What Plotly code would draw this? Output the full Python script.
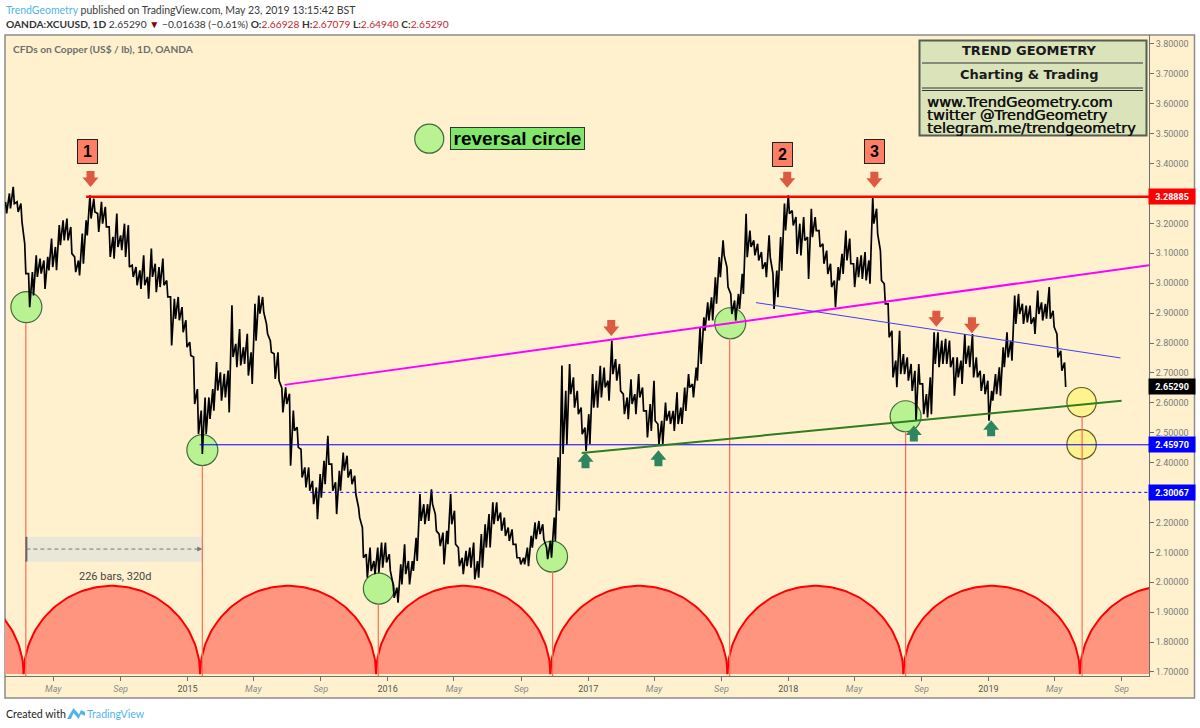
import numpy as np
import pandas as pd
import plotly.graph_objects as go

# Weekly high / low of XCUUSD
semanas = [
    (3.272, 3.233), (3.300, 3.250), (3.322, 3.266), (3.272, 3.238), (3.266, 3.205), (3.132, 3.032), (3.032, 2.920), (3.037, 2.959),
    (3.093, 3.021), (3.082, 3.032), (3.076, 2.981), (3.088, 3.043), (3.149, 3.054), (3.121, 3.043), (3.194, 3.127), (3.210, 3.143),
    (3.216, 3.143), (3.188, 3.099), (3.088, 3.037), (3.076, 3.026), (3.166, 3.065), (3.210, 3.160), (3.294, 3.216), (3.283, 3.238),
    (3.233, 3.171), (3.272, 3.199), (3.255, 3.188), (3.188, 3.088), (3.155, 3.082), (3.233, 3.121), (3.160, 3.110), (3.199, 3.088),
    (3.194, 3.054), (3.060, 3.021), (3.054, 2.993), (3.043, 2.981), (3.093, 2.993), (3.021, 2.948), (3.116, 3.021), (3.065, 2.970),
    (3.054, 2.987), (3.082, 2.993), (3.009, 2.954), (2.954, 2.792), (2.948, 2.881), (2.954, 2.876), (2.920, 2.836), (2.876, 2.786),
    (2.803, 2.758), (2.753, 2.596), (2.646, 2.496), (2.574, 2.429), (2.618, 2.496), (2.618, 2.546), (2.646, 2.574), (2.736, 2.641),
    (2.702, 2.607), (2.697, 2.618), (2.708, 2.568), (2.926, 2.753), (2.797, 2.719), (2.847, 2.725), (2.786, 2.730), (2.831, 2.691),
    (2.769, 2.663), (2.931, 2.808), (2.959, 2.898), (2.954, 2.903), (2.864, 2.831), (2.808, 2.769), (2.764, 2.680), (2.769, 2.674),
    (2.650, 2.568), (2.652, 2.596), (2.630, 2.390), (2.574, 2.507), (2.518, 2.451), (2.445, 2.350), (2.384, 2.317), (2.384, 2.306),
    (2.339, 2.261), (2.317, 2.211), (2.362, 2.283), (2.406, 2.328), (2.490, 2.395), (2.395, 2.306), (2.334, 2.228), (2.373, 2.306),
    (2.434, 2.373), (2.423, 2.350), (2.378, 2.328), (2.356, 2.295), (2.250, 2.216), (2.183, 2.082), (2.094, 2.015), (2.116, 2.038),
    (2.071, 2.027), (2.116, 2.032), (2.133, 2.049), (2.133, 2.066), (2.094, 2.038), (1.993, 1.948), (1.982, 1.932), (2.060, 1.993),
    (2.127, 2.027), (2.071, 1.993), (2.071, 2.038), (2.149, 2.071), (2.295, 2.205), (2.261, 2.194), (2.261, 2.205), (2.311, 2.261),
    (2.228, 2.172), (2.161, 2.121), (2.166, 2.060), (2.172, 2.127), (2.295, 2.194), (2.239, 2.127), (2.116, 2.054), (2.082, 2.027),
    (2.105, 2.054), (2.116, 2.049), (2.133, 2.010), (2.071, 2.015), (2.161, 2.049), (2.194, 2.116), (2.228, 2.116), (2.267, 2.194),
    (2.267, 2.205), (2.233, 2.172), (2.216, 2.155), (2.183, 2.138), (2.177, 2.127), (2.127, 2.082), (2.082, 2.060), (2.082, 2.060),
    (2.116, 2.054), (2.155, 2.116), (2.200, 2.144), (2.205, 2.161), (2.194, 2.144), (2.116, 2.077), (2.138, 2.082), (2.216, 2.138),
    (2.418, 2.239), (2.725, 2.429), (2.640, 2.460), (2.730, 2.629), (2.685, 2.584), (2.640, 2.562), (2.584, 2.495), (2.517, 2.439),
    (2.562, 2.462), (2.696, 2.584), (2.674, 2.584), (2.724, 2.618), (2.718, 2.651), (2.674, 2.607), (2.808, 2.696), (2.746, 2.674),
    (2.730, 2.640), (2.629, 2.562), (2.618, 2.545), (2.679, 2.596), (2.629, 2.562), (2.696, 2.618), (2.651, 2.573), (2.573, 2.484),
    (2.596, 2.506), (2.674, 2.540), (2.529, 2.462), (2.540, 2.462), (2.601, 2.540), (2.573, 2.529), (2.573, 2.506), (2.635, 2.529),
    (2.584, 2.529), (2.651, 2.573), (2.696, 2.651), (2.663, 2.618), (2.718, 2.674), (2.853, 2.730), (2.886, 2.841), (2.936, 2.875),
    (2.953, 2.875), (3.020, 2.931), (3.087, 3.020), (3.143, 3.093), (3.054, 2.987), (2.964, 2.897), (2.942, 2.875), (2.964, 2.914),
    (3.031, 2.964), (3.232, 3.087), (3.176, 3.121), (3.143, 3.093), (3.132, 3.076), (3.104, 3.048), (3.070, 3.020), (3.160, 3.087),
    (3.031, 2.914), (3.042, 2.953), (3.154, 3.042), (3.266, 3.176), (3.294, 3.232), (3.243, 3.193), (3.221, 3.098), (3.199, 3.093),
    (3.221, 3.143), (3.154, 3.014), (3.249, 3.154), (3.221, 3.176), (3.176, 3.121), (3.132, 3.065), (3.109, 3.031), (3.065, 2.987),
    (3.009, 2.920), (3.054, 3.009), (3.098, 3.031), (3.176, 3.076), (3.149, 3.065), (3.065, 2.987), (3.087, 3.020), (3.093, 3.014),
    (3.104, 3.009), (3.076, 2.998), (3.288, 3.199), (3.249, 3.165), (3.109, 3.009), (2.998, 2.931), (2.931, 2.819), (2.841, 2.685),
    (2.741, 2.652), (2.841, 2.696), (2.763, 2.696), (2.752, 2.674), (2.730, 2.640), (2.707, 2.540), (2.730, 2.663), (2.663, 2.562),
    (2.629, 2.551), (2.685, 2.562), (2.836, 2.730), (2.836, 2.719), (2.808, 2.730), (2.814, 2.730), (2.808, 2.719), (2.752, 2.624),
    (2.752, 2.685), (2.741, 2.663), (2.830, 2.730), (2.791, 2.719), (2.830, 2.685), (2.752, 2.685), (2.707, 2.640), (2.696, 2.629),
    (2.674, 2.540), (2.640, 2.607), (2.696, 2.629), (2.719, 2.624), (2.786, 2.719), (2.836, 2.752), (2.808, 2.741), (2.959, 2.864),
    (2.964, 2.897), (2.931, 2.864), (2.925, 2.869), (2.925, 2.864), (2.886, 2.830), (2.975, 2.897), (2.936, 2.875), (2.931, 2.881),
    (2.987, 2.881), (2.908, 2.853), (2.830, 2.752), (2.774, 2.707), (2.735, 2.653),
]

PAPER = '#FFF1CE'
GRIS = '#6f6f6f'
AZUL_TV = '#4FB6E8'
FIN = '2019-10-21'

# pixel helpers for the decoration that is not tied to the data
def px(x):
    return (x - 5) / 1144

def py(y):
    return 1 - (y - 35) / 641

fig = go.Figure()

# Cycle curves
ciclos = ['2013-04-25', '2014-03-12', '2015-01-28', '2015-12-15', '2016-10-28', '2017-09-16', '2018-08-03', '2019-06-21', '2020-05-09']
base, cima = 1.693, 1.988
t = np.linspace(0, np.pi, 90)
for ini, fin in zip(ciclos[:-1], ciclos[1:]):
    a = pd.Timestamp(ini) - pd.Timedelta(days=4)
    dur = (pd.Timestamp(fin) - pd.Timestamp(ini)).days
    xs = [a + pd.Timedelta(days=float(d)) for d in dur * (1 - np.cos(t)) / 2]
    fig.add_trace(go.Scatter(x=xs, y=base + (cima - base) * np.sin(t), mode='lines', fill='toself',
                             fillcolor='#FF947F', line=dict(color='#FF0000', width=2), hoverinfo='skip'))

# Vertical lines from each circle down to the axis
verticales = [('2014-03-12', 2.867), ('2015-01-28', 2.388), ('2015-12-15', 1.925), ('2016-10-28', 2.034),
              ('2017-09-16', 2.815), ('2018-08-03', 2.505), ('2019-06-21', 2.556)]
for fecha, tope in verticales:
    fig.add_trace(go.Scatter(x=[fecha, fecha], y=[1.5, tope], mode='lines', line=dict(color='#FF6A58', width=1.2), hoverinfo='skip'))

# Price
fechas = pd.date_range('2014-02-03', periods=len(semanas), freq='W-MON')
x_precio, y_precio = [], []
for fecha, (alto, bajo) in zip(fechas, semanas):
    x_precio += [fecha, fecha + pd.Timedelta(days=2)]
    y_precio += [alto, bajo]
fig.add_trace(go.Scatter(x=x_precio, y=y_precio, mode='lines', line=dict(color='#000000', width=1.7), hoverinfo='skip'))

# Levels and trend lines
lineas = [
    (['2014-06-30', FIN], [3.28885, 3.28885], '#FF0000', 2.6, 'solid'),
    (['2015-01-23', FIN], [2.4597, 2.4597], '#0000FF', 1, 'solid'),
    (['2015-08-13', FIN], [2.30067, 2.30067], '#0000FF', 1, 'dot'),
    (['2015-06-27', FIN], [2.660, 3.060], '#FF00FF', 2, 'solid'),
    (['2017-11-03', '2019-08-30'], [2.935, 2.750], '#3F3FF0', 1, 'solid'),
    (['2016-12-20', '2019-09-01'], [2.432, 2.607], '#2E7D1E', 2, 'solid'),
]
for xs, ys, color, ancho, estilo in lineas:
    fig.add_trace(go.Scatter(x=xs, y=ys, mode='lines', line=dict(color=color, width=ancho, dash=estilo), hoverinfo='skip'))

shapes = []

# Chart frame
shapes.append(dict(type='rect', xref='paper', yref='paper', x0=px(5), x1=px(1194.5), y0=py(35), y1=py(698),
                   fillcolor=PAPER, line=dict(color='#8c8c8c', width=1.5), layer='below'))

# Reversal circles
circulos = [
    ('2014-03-13', 2.920, 15.5, '#B9F291', '#3F6B3F'), ('2015-01-28', 2.442, 15.5, '#B9F291', '#3F6B3F'),
    ('2015-12-16', 1.979, 15.5, '#B9F291', '#3F6B3F'), ('2016-10-27', 2.086, 15.5, '#B9F291', '#3F6B3F'),
    ('2017-09-17', 2.866, 15.5, '#B9F291', '#3F6B3F'), ('2018-08-03', 2.555, 15.5, '#B9F291', '#3F6B3F'),
    ('2016-03-17', 3.483, 14.5, '#B9F291', '#3F6B3F'),
    ('2019-06-20', 2.602, 14.7, '#FFF38F', '#5F5A2A'), ('2019-06-20', 2.461, 14.7, '#FFF38F', '#5F5A2A'),
]
for fecha, precio, r, relleno, borde in circulos:
    shapes.append(dict(type='circle', xref='x', yref='y', xsizemode='pixel', ysizemode='pixel',
                       xanchor=fecha, yanchor=precio, x0=-r, x1=r, y0=-r, y1=r,
                       fillcolor=relleno, line=dict(color=borde, width=1.2), layer='below'))

# Block arrows, path y runs upwards from the anchor
FLECHA_BAJA = 'M -4 8 L 4 8 L 4 1.5 L 8 1.5 L 0 -8 L -8 1.5 L -4 1.5 Z'
FLECHA_SUBE = 'M -4 -8 L 4 -8 L 4 -1.5 L 8 -1.5 L 0 8 L -8 -1.5 L -4 -1.5 Z'
rojas = [('2014-07-08', 3.348), ('2017-12-30', 3.346), ('2018-06-07', 3.346), ('2017-02-12', 2.850), ('2018-09-28', 2.881), ('2018-12-02', 2.859)]
verdes = [('2016-12-27', 2.408), ('2017-05-09', 2.415), ('2018-08-18', 2.497), ('2019-01-06', 2.515)]
for fecha, precio in rojas:
    shapes.append(dict(type='path', xref='x', yref='y', xsizemode='pixel', ysizemode='pixel', xanchor=fecha, yanchor=precio,
                       path=FLECHA_BAJA, fillcolor='#DB5A41', line=dict(color='#DB5A41', width=0)))
for fecha, precio in verdes:
    shapes.append(dict(type='path', xref='x', yref='y', xsizemode='pixel', ysizemode='pixel', xanchor=fecha, yanchor=precio,
                       path=FLECHA_SUBE, fillcolor='#2E8560', line=dict(color='#2E8560', width=0)))

# Date range ruler
shapes.append(dict(type='rect', xref='x', yref='y', x0='2014-03-12', x1='2015-01-28', y0=2.069, y1=2.152,
                   fillcolor='#E9E7D8', line=dict(width=0), layer='below'))
shapes.append(dict(type='line', xref='x', yref='y', x0='2014-03-13', x1='2014-03-13', y0=2.069, y1=2.152, line=dict(color='#666666', width=2)))
shapes.append(dict(type='line', xref='x', yref='y', x0='2014-03-13', x1='2015-01-26', y0=2.111, y1=2.111, line=dict(color='#777777', width=1, dash='4px,3px')))

# Info panel
shapes.append(dict(type='rect', xref='paper', yref='paper', x0=px(919.5), x1=px(1146.5), y0=py(40.5), y1=py(135.5),
                   fillcolor='#DBE3BB', line=dict(color='#555F50', width=2)))
for y_linea in [63, 88, 90.5]:
    shapes.append(dict(type='line', xref='paper', yref='paper', x0=px(922), x1=px(1143), y0=py(y_linea), y1=py(y_linea), line=dict(color='#333333', width=1)))

# TradingView logo
logo = [(67, 719), (73.5, 708), (79, 714.5), (81, 710), (85, 712), (85, 716), (81, 714), (78.5, 719), (73.5, 713), (71, 719)]
ruta = 'M ' + ' L '.join(f'{px(a):.5f} {py(b):.5f}' for a, b in logo) + ' Z'
shapes.append(dict(type='path', xref='paper', yref='paper', path=ruta, fillcolor=AZUL_TV, line=dict(width=0)))

annotations = []

def texto(x, y, s, size=12, color='#222222', familia='Lato', ancla='left', sombra=None, **extra):
    fuente = dict(size=size, color=color, family=familia)
    if sombra:
        fuente['shadow'] = sombra
    annotations.append(dict(xref='paper', yref='paper', x=px(x), y=py(y), text=s, showarrow=False, xanchor=ancla, yanchor='middle',
                            font=fuente, borderpad=0, **extra))

# Header
rojo = '#C0272D'
texto(5, 10, f'<span style="color:{AZUL_TV}">TrendGeometry</span> published on TradingView.com, May 23, 2019 13:15:42 BST', size=10.5, color='#3a3a3a')
texto(5, 24, f'<b>OANDA:XCUUSD, 1D</b> 2.65290 <span style="color:#8B0000">▼</span> −0.01638 (−0.61%) <b>O:</b><span style="color:{rojo}">2.66928</span> '
             f'<b>H:</b><span style="color:{rojo}">2.67079</span> <b>L:</b><span style="color:{rojo}">2.64940</span> <b>C:</b><span style="color:{rojo}">2.65290</span>',
      size=10.2, color='#333333')
texto(12, 49, '<b>CFDs on Copper (US$ / lb), 1D, OANDA</b>', size=10.2, color='#6d6d6d')

# Footer
texto(5, 714, 'Created with', size=10.6, color='#222222')
texto(86, 714, 'TradingView', size=10.6, color=AZUL_TV)

# Panel text
texto(1029, 50, '<b>TREND GEOMETRY</b>', size=13, familia='DejaVu Sans', ancla='center', color='#1a1a1a')
texto(1029, 75, '<b>Charting &amp; Trading</b>', size=13, familia='DejaVu Sans', ancla='center', color='#1a1a1a')
SOMBRA = '0.5px 0 0 #111111'
texto(926, 101.5, 'www.TrendGeometry.com', size=14.6, familia='DejaVu Sans', color='#111111', sombra=SOMBRA)
texto(926, 114.5, 'twitter @TrendGeometry', size=14.6, familia='DejaVu Sans', color='#111111', sombra=SOMBRA)
texto(926, 127.5, 'telegram.me/trendgeometry', size=14.6, familia='DejaVu Sans', color='#111111', sombra=SOMBRA)

# Legend tag
texto(517.5, 138, '<b>reversal circle</b>', size=19, familia='Liberation Sans', ancla='center', color='#000000',
      bgcolor='#7FE86B', bordercolor='#333333', borderwidth=1, width=133, height=21)

# Number tags
for fecha, precio, num in [('2014-07-03', 3.440, '1'), ('2017-12-22', 3.430, '2'), ('2018-06-07', 3.441, '3')]:
    annotations.append(dict(x=fecha, y=precio, xref='x', yref='y', text=f'<b>{num}</b>', showarrow=False, width=17, height=21,
                            bgcolor='#FF7F66', bordercolor='#222222', borderwidth=1, font=dict(size=16, color='#000000', family='Liberation Sans')))

# Ruler label and arrow tip
annotations.append(dict(x='2014-08-22', y=2.018, xref='x', yref='y', text='226 bars, 320d', showarrow=False,
                        font=dict(size=11, color='#444444', family='Roboto')))
annotations.append(dict(x='2015-01-28', y=2.111, xref='x', yref='y', ax='2015-01-15', ay=2.111, axref='x', ayref='y', text='',
                        showarrow=True, arrowhead=2, arrowsize=1, arrowwidth=1, arrowcolor='#777777', standoff=0))

# Price tags on the axis
for precio, fondo in [(3.28885, '#FF0000'), (2.65290, '#000000'), (2.45970, '#0000FF'), (2.30067, '#0000FF')]:
    annotations.append(dict(xref='paper', yref='y', x=px(1172), y=precio, xanchor='center', text=f'<b>{precio:.5f}</b>', showarrow=False, width=44, height=13,
                            bgcolor=fondo, font=dict(size=9, color='#FFFFFF', family='Roboto')))

# Axis ticks
ticks_y = [round(1.7 + 0.1 * i, 1) for i in range(22)]
ticks_y = [v for v in ticks_y if v not in (3.3, 2.3)]
etiquetas_x = {
    '2014-05-01': 'May', '2014-09-01': 'Sep', '2015-01-01': '2015', '2015-05-01': 'May', '2015-09-01': 'Sep', '2016-01-01': '2016',
    '2016-05-01': 'May', '2016-09-01': 'Sep', '2017-01-01': '2017', '2017-05-01': 'May', '2017-09-01': 'Sep', '2018-01-01': '2018',
    '2018-05-01': 'May', '2018-09-01': 'Sep', '2019-01-01': '2019', '2019-05-01': 'May', '2019-09-01': 'Sep',
}
texto_x = [f'<span style="color:#555555">{v}</span>' if v.isdigit() else f'<i>{v}</i>' for v in etiquetas_x.values()]

fig.update_layout(
    width=1200,
    height=728,
    margin=dict(l=5, r=51, t=35, b=52),
    paper_bgcolor='#FFFFFF',
    plot_bgcolor=PAPER,
    showlegend=False,
    shapes=shapes,
    annotations=annotations,
    font=dict(family='Roboto'),
)
fig.update_xaxes(
    type='date',
    range=['2014-02-02', FIN],
    tickvals=list(etiquetas_x.keys()),
    ticktext=texto_x,
    ticks='outside',
    ticklen=4,
    tickcolor=GRIS,
    showline=True,
    linecolor=GRIS,
    linewidth=1,
    showgrid=False,
    zeroline=False,
    tickfont=dict(size=9, color='#8a8a8a', family='Roboto'),
)
fig.update_yaxes(
    side='right',
    range=[1.6866, 3.8298],
    tickvals=ticks_y,
    ticktext=[f'{v:.5f}' for v in ticks_y],
    ticks='outside',
    ticklen=4,
    tickcolor=GRIS,
    showline=True,
    linecolor=GRIS,
    linewidth=1,
    showgrid=False,
    zeroline=False,
    tickfont=dict(size=9, color='#7a7a7a', family='Roboto'),
)

fig.write_html("out.html", config={'displayModeBar': False},
               post_script="document.body.style.margin='0';document.body.style.overflow='hidden';")
